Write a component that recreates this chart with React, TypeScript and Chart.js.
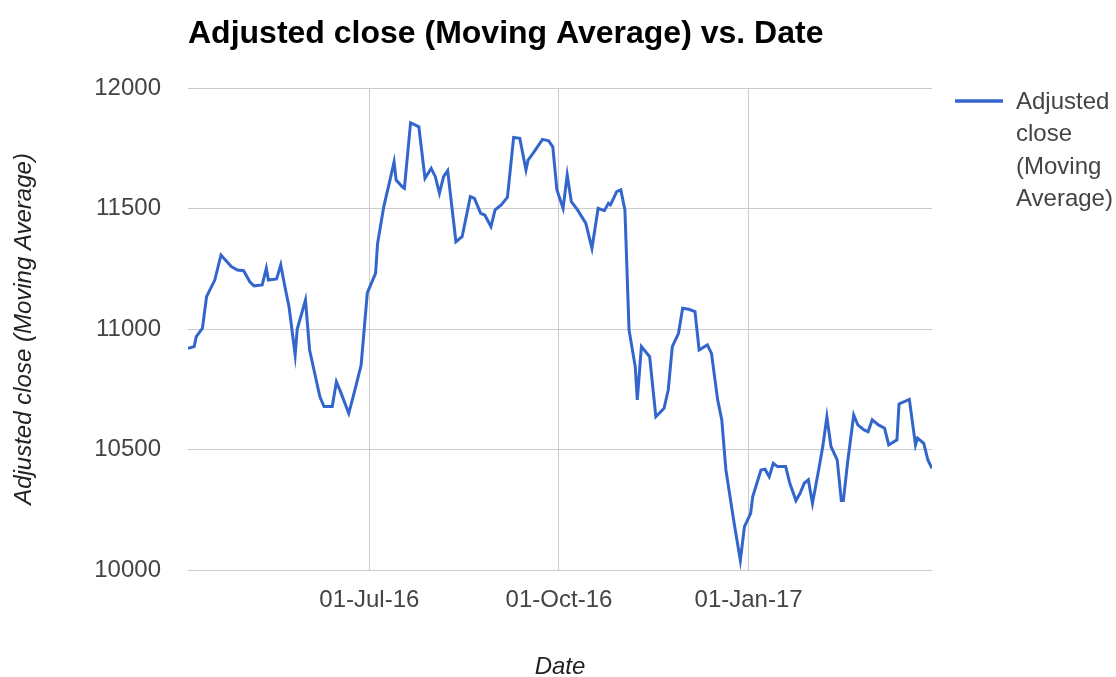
import { useEffect, useRef } from "react";
import { Chart, registerables } from "chart.js";

Chart.register(...registerables);

// Adjusted close, moving average, by trading date
const dates: string[] = [
  "2016-04-04", "2016-04-07", "2016-04-08", "2016-04-11", "2016-04-13", "2016-04-17",
  "2016-04-20", "2016-04-25", "2016-04-28", "2016-05-01", "2016-05-04", "2016-05-06",
  "2016-05-10", "2016-05-12", "2016-05-13", "2016-05-17", "2016-05-19", "2016-05-21",
  "2016-05-23", "2016-05-26", "2016-05-27", "2016-05-31", "2016-06-02", "2016-06-07",
  "2016-06-09", "2016-06-13", "2016-06-15", "2016-06-17", "2016-06-21", "2016-06-24",
  "2016-06-27", "2016-06-30", "2016-07-04", "2016-07-05", "2016-07-08", "2016-07-11",
  "2016-07-13", "2016-07-14", "2016-07-17", "2016-07-18", "2016-07-21", "2016-07-25",
  "2016-07-28", "2016-07-31", "2016-08-02", "2016-08-04", "2016-08-06", "2016-08-08",
  "2016-08-12", "2016-08-15", "2016-08-19", "2016-08-21", "2016-08-24", "2016-08-26",
  "2016-08-29", "2016-08-31", "2016-09-03", "2016-09-06", "2016-09-09", "2016-09-12",
  "2016-09-15", "2016-09-16", "2016-09-19", "2016-09-23", "2016-09-26", "2016-09-28",
  "2016-09-30", "2016-10-03", "2016-10-05", "2016-10-07", "2016-10-10", "2016-10-14",
  "2016-10-17", "2016-10-20", "2016-10-23", "2016-10-25", "2016-10-26", "2016-10-29",
  "2016-10-31", "2016-11-02", "2016-11-04", "2016-11-07", "2016-11-08", "2016-11-10",
  "2016-11-14", "2016-11-17", "2016-11-21", "2016-11-23", "2016-11-25", "2016-11-28",
  "2016-11-30", "2016-12-03", "2016-12-06", "2016-12-08", "2016-12-12", "2016-12-14",
  "2016-12-17", "2016-12-19", "2016-12-21", "2016-12-25", "2016-12-28", "2016-12-30",
  "2017-01-02", "2017-01-03", "2017-01-07", "2017-01-09", "2017-01-11", "2017-01-13",
  "2017-01-15", "2017-01-19", "2017-01-21", "2017-01-24", "2017-01-26", "2017-01-28",
  "2017-01-30", "2017-02-01", "2017-02-04", "2017-02-06", "2017-02-08", "2017-02-10",
  "2017-02-13", "2017-02-15", "2017-02-16", "2017-02-18", "2017-02-21", "2017-02-23",
  "2017-02-26", "2017-02-28", "2017-03-02", "2017-03-05", "2017-03-08", "2017-03-10",
  "2017-03-14", "2017-03-15", "2017-03-20", "2017-03-23", "2017-03-24", "2017-03-27",
  "2017-03-29", "2017-03-31",
];

const adjustedClose: number[] = [
  10920, 10927, 10968, 11003, 11134, 11203,
  11307, 11259, 11245, 11242, 11196, 11179,
  11183, 11252, 11203, 11208, 11266, 11176,
  11093, 10892, 11000, 11120, 10913, 10719,
  10678, 10678, 10781, 10740, 10650, 10747,
  10850, 11150, 11231, 11356, 11508, 11618,
  11694, 11618, 11590, 11584, 11856, 11839,
  11625, 11667, 11632, 11563, 11632, 11657,
  11362, 11383, 11549, 11542, 11480, 11473,
  11425, 11494, 11515, 11547, 11795, 11791,
  11660, 11701, 11736, 11787, 11781, 11756,
  11577, 11501, 11639, 11528, 11494, 11439,
  11335, 11501, 11491, 11522, 11515, 11570,
  11577, 11494, 10996, 10844, 10706, 10927,
  10885, 10636, 10671, 10747, 10927, 10982,
  11086, 11082, 11072, 10913, 10934, 10899,
  10706, 10623, 10415, 10194, 10040, 10180,
  10235, 10304, 10415, 10418, 10387, 10443,
  10429, 10429, 10360, 10288, 10318, 10360,
  10374, 10277, 10415, 10512, 10636, 10512,
  10457, 10288, 10288, 10443, 10643, 10602,
  10581, 10574, 10623, 10602, 10588, 10519,
  10540, 10689, 10708, 10519, 10547, 10526,
  10457, 10422,
];

const xTickDates: string[] = ["2016-07-01", "2016-10-01", "2017-01-01"];
const yTicks: number[] = [10000, 10500, 11000, 11500, 12000];

const MONTHS = ["Jan", "Feb", "Mar", "Apr", "May", "Jun", "Jul", "Aug", "Sep", "Oct", "Nov", "Dec"];
const SERIES_LABEL = "Adjusted close (Moving Average)";
const CHART_TITLE = "Adjusted close (Moving Average) vs. Date";
const FONT = "'Liberation Sans', Arial, sans-serif";
const LINE_COLOR = "#3366cc";

const DAY_MS = 86400000;
const dayNum = (s: string) => {
  const [y, m, d] = s.split("-").map(Number);
  return Date.UTC(y, m - 1, d) / DAY_MS;
};
const formatDay = (n: number) => {
  const dt = new Date(n * DAY_MS);
  const dd = String(dt.getUTCDate()).padStart(2, "0");
  const yy = String(dt.getUTCFullYear()).slice(2);
  return `${dd}-${MONTHS[dt.getUTCMonth()]}-${yy}`;
};

// Title drawn at the left edge of the plot area
const titlePlugin = {
  id: "leftTitle",
  afterDraw(chart: any) {
    const { ctx, chartArea } = chart;
    ctx.save();
    ctx.font = `bold 32px ${FONT}`;
    ctx.fillStyle = "#000000";
    ctx.textAlign = "left";
    ctx.textBaseline = "alphabetic";
    ctx.fillText(CHART_TITLE, chartArea.left, 43);
    ctx.restore();
  },
};

// Right-hand legend with word-wrapped label
const sideLegendPlugin = {
  id: "sideLegend",
  afterDraw(chart: any) {
    const { ctx, chartArea } = chart;
    const ds = chart.data.datasets[0];
    const lineX0 = chartArea.right + 23;
    const lineX1 = lineX0 + 48;
    const textX = lineX1 + 13;
    const firstY = 102;
    const lineGap = 32.5;
    ctx.save();
    ctx.strokeStyle = ds.borderColor;
    ctx.lineWidth = 3.5;
    ctx.beginPath();
    ctx.moveTo(lineX0, 101);
    ctx.lineTo(lineX1, 101);
    ctx.stroke();

    ctx.font = `24px ${FONT}`;
    ctx.fillStyle = "#444444";
    ctx.textAlign = "left";
    ctx.textBaseline = "middle";
    const maxW = chart.width - textX - 4;
    const words = String(ds.label).split(" ");
    const lines: string[] = [];
    let cur = "";
    for (const w of words) {
      const test = cur ? cur + " " + w : w;
      if (cur && ctx.measureText(test).width > maxW) {
        lines.push(cur);
        cur = w;
      } else {
        cur = test;
      }
    }
    if (cur) lines.push(cur);
    lines.forEach((ln, i) => ctx.fillText(ln, textX, firstY + i * lineGap));
    ctx.restore();
  },
};

export default function App() {
  const canvasRef = useRef<HTMLCanvasElement | null>(null);

  useEffect(() => {
    document.body.style.margin = "0";
    document.body.style.background = "#ffffff";
    const canvas = canvasRef.current;
    if (!canvas) return;

    const points = dates.map((d, i) => ({ x: dayNum(d), y: adjustedClose[i] }));
    const xMin = dayNum(dates[0]);
    const xMax = dayNum(dates[dates.length - 1]);

    const chart = new Chart(canvas, {
      type: "line",
      data: {
        datasets: [
          {
            label: SERIES_LABEL,
            data: points,
            borderColor: LINE_COLOR,
            backgroundColor: LINE_COLOR,
            borderWidth: 3,
            pointRadius: 0,
            tension: 0,
            fill: false,
          },
        ],
      },
      options: {
        animation: false,
        responsive: false,
        devicePixelRatio: 1,
        layout: { padding: { left: 0, top: 88, right: 184, bottom: 0 } },
        plugins: {
          legend: { display: false },
          tooltip: { enabled: false },
          title: { display: false },
        },
        scales: {
          x: {
            type: "linear",
            min: xMin,
            max: xMax,
            border: { display: false },
            grid: { color: "#cccccc", lineWidth: 1, drawTicks: false },
            afterBuildTicks: (scale: any) => {
              scale.ticks = xTickDates.map((d) => ({ value: dayNum(d) }));
            },
            afterFit: (scale: any) => {
              scale.height = 107;
            },
            ticks: {
              autoSkip: false,
              maxRotation: 0,
              padding: 16,
              color: "#444444",
              font: { family: FONT, size: 24 },
              callback: (v: any) => formatDay(Number(v)),
            },
            title: {
              display: true,
              text: "Date",
              color: "#222222",
              font: { family: FONT, size: 24, style: "italic" },
              padding: { top: 0, bottom: -5 },
            },
          },
          y: {
            type: "linear",
            min: yTicks[0],
            max: yTicks[yTicks.length - 1],
            border: { display: false },
            grid: { color: "#cccccc", lineWidth: 1, drawTicks: false },
            afterBuildTicks: (scale: any) => {
              scale.ticks = yTicks.map((v) => ({ value: v }));
            },
            afterFit: (scale: any) => {
              scale.width = 188;
            },
            ticks: {
              padding: 27,
              color: "#444444",
              font: { family: FONT, size: 24 },
              callback: (v: any) => String(v),
            },
            title: {
              display: true,
              text: SERIES_LABEL,
              color: "#222222",
              font: { family: FONT, size: 24, style: "italic" },
              padding: { top: 10, bottom: 0 },
            },
          },
        },
      },
      plugins: [titlePlugin, sideLegendPlugin],
    } as any);

    return () => chart.destroy();
  }, []);

  return (
    <div style={{ width: 1116, height: 677 }}>
      <canvas ref={canvasRef} width={1116} height={677} />
    </div>
  );
}
